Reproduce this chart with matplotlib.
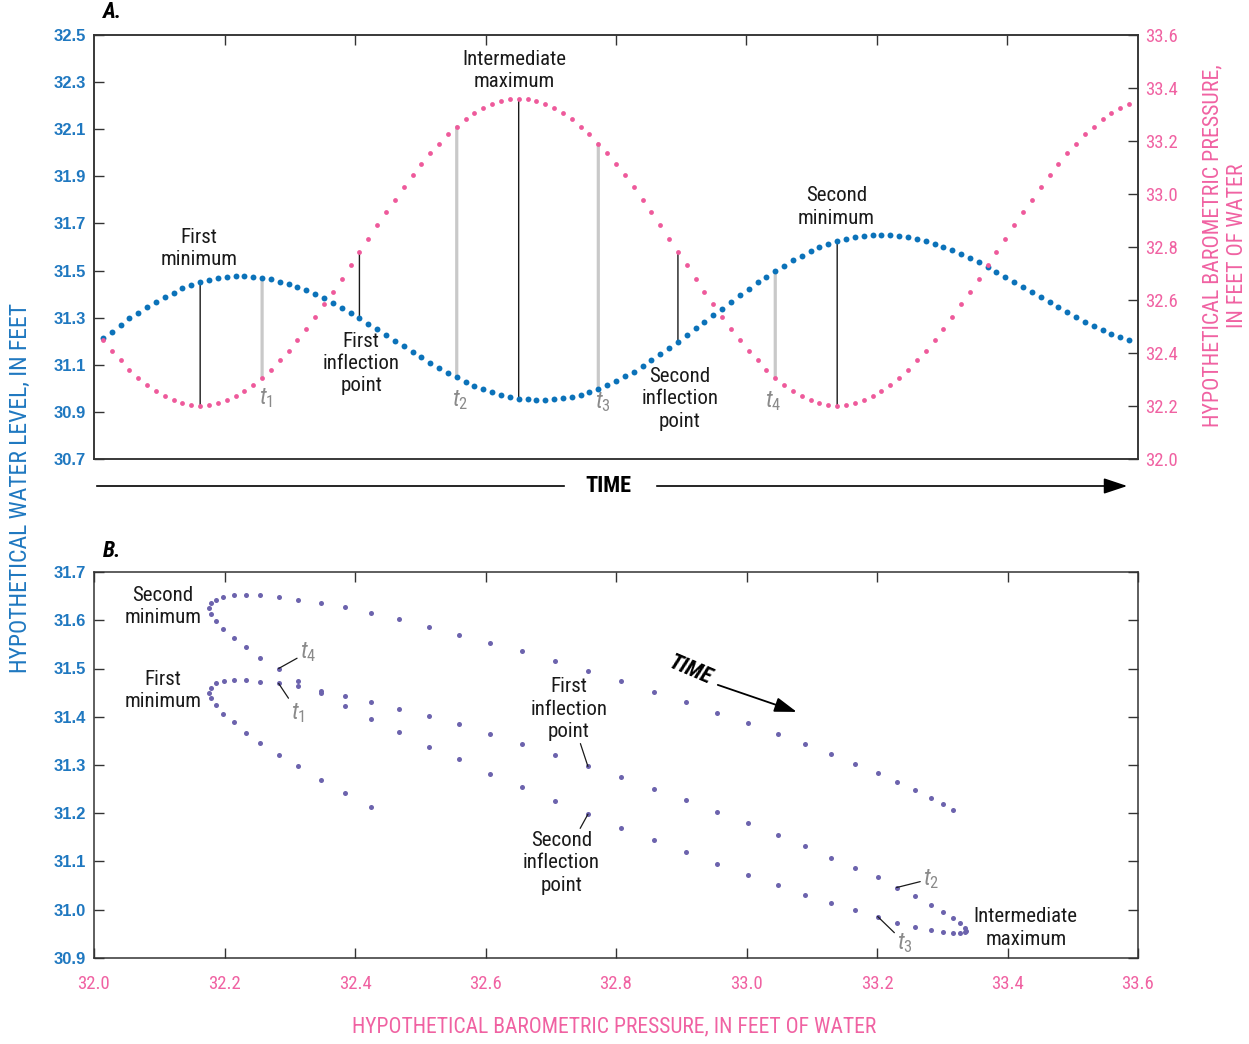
import matplotlib
matplotlib.use("Agg")
import matplotlib.pyplot as plt
from matplotlib import font_manager
from matplotlib.patches import ConnectionPatch, FancyArrowPatch
from matplotlib.lines import Line2D
import numpy as np

# values, one sample per time step (117 steps)
water_level = [
    31.212, 31.241, 31.269, 31.297, 31.321, 31.345, 31.367, 31.389, 31.406, 31.425,
    31.439, 31.450, 31.460, 31.469, 31.474, 31.476, 31.476, 31.473, 31.469, 31.463,
    31.453, 31.443, 31.430, 31.416, 31.401, 31.384, 31.364, 31.343, 31.320, 31.297,
    31.275, 31.251, 31.227, 31.203, 31.179, 31.155, 31.132, 31.108, 31.087, 31.067,
    31.046, 31.029, 31.010, 30.996, 30.983, 30.972, 30.963, 30.956, 30.954, 30.951,
    30.951, 30.954, 30.958, 30.965, 30.973, 30.986, 30.999, 31.014, 31.031, 31.051,
    31.071, 31.095, 31.119, 31.145, 31.170, 31.198, 31.225, 31.255, 31.282, 31.312,
    31.338, 31.368, 31.396, 31.423, 31.450, 31.474, 31.500, 31.521, 31.544, 31.563,
    31.582, 31.599, 31.613, 31.626, 31.636, 31.643, 31.648, 31.652, 31.652, 31.652,
    31.648, 31.643, 31.636, 31.627, 31.614, 31.602, 31.587, 31.570, 31.553, 31.536,
    31.515, 31.494, 31.474, 31.452, 31.430, 31.408, 31.387, 31.365, 31.344, 31.323,
    31.302, 31.283, 31.265, 31.248, 31.232, 31.220, 31.207]

# barometric pressure as drawn in panel A
baro_a = [
    32.449, 32.409, 32.372, 32.337, 32.307, 32.279, 32.257, 32.238, 32.221, 32.211,
    32.204, 32.201, 32.204, 32.211, 32.223, 32.238, 32.257, 32.279, 32.307, 32.337,
    32.372, 32.409, 32.449, 32.491, 32.537, 32.584, 32.631, 32.680, 32.731, 32.781,
    32.831, 32.883, 32.932, 32.979, 33.026, 33.072, 33.113, 33.154, 33.190, 33.225,
    33.254, 33.283, 33.306, 33.325, 33.341, 33.351, 33.359, 33.360, 33.359, 33.351,
    33.341, 33.325, 33.306, 33.283, 33.254, 33.225, 33.190, 33.154, 33.113, 33.072,
    33.026, 32.979, 32.932, 32.883, 32.831, 32.781, 32.731, 32.680, 32.631, 32.584,
    32.537, 32.491, 32.449, 32.409, 32.372, 32.337, 32.307, 32.279, 32.257, 32.238,
    32.221, 32.211, 32.204, 32.201, 32.204, 32.211, 32.221, 32.238, 32.257, 32.279,
    32.307, 32.337, 32.372, 32.409, 32.449, 32.491, 32.537, 32.584, 32.631, 32.680,
    32.731, 32.781, 32.831, 32.883, 32.932, 32.979, 33.026, 33.072, 33.113, 33.154,
    33.190, 33.225, 33.254, 33.283, 33.306, 33.325, 33.341]

# barometric pressure as drawn in panel B (sits a little left of panel A values)
baro_b = [
    32.425, 32.385, 32.348, 32.313, 32.283, 32.255, 32.233, 32.214, 32.197, 32.187,
    32.180, 32.177, 32.180, 32.187, 32.199, 32.214, 32.233, 32.255, 32.283, 32.313,
    32.348, 32.385, 32.425, 32.467, 32.513, 32.560, 32.607, 32.656, 32.707, 32.757,
    32.807, 32.859, 32.908, 32.955, 33.002, 33.048, 33.089, 33.130, 33.166, 33.201,
    33.230, 33.259, 33.282, 33.301, 33.317, 33.327, 33.335, 33.336, 33.335, 33.327,
    33.317, 33.301, 33.282, 33.259, 33.230, 33.201, 33.166, 33.130, 33.089, 33.048,
    33.002, 32.955, 32.908, 32.859, 32.807, 32.757, 32.707, 32.656, 32.607, 32.560,
    32.513, 32.467, 32.425, 32.385, 32.348, 32.313, 32.283, 32.255, 32.233, 32.214,
    32.197, 32.187, 32.180, 32.177, 32.180, 32.187, 32.197, 32.214, 32.233, 32.255,
    32.283, 32.313, 32.348, 32.385, 32.425, 32.467, 32.513, 32.560, 32.607, 32.656,
    32.707, 32.757, 32.807, 32.859, 32.908, 32.955, 33.002, 33.048, 33.089, 33.130,
    33.166, 33.201, 33.230, 33.259, 33.282, 33.301, 33.317]

# annotated time steps
feature_idx = [11, 29, 47, 65, 83]
feature_text = ['First\nminimum', 'First\ninflection\npoint', 'Intermediate\nmaximum',
                'Second\ninflection\npoint', 'Second\nminimum']
t_idx_a = [18, 40, 56, 76]
t_idx_b = [18, 40, 55, 76]
t_text = ['$t_1$', '$t_2$', '$t_3$', '$t_4$']

left_ticks_a = [30.7, 30.9, 31.1, 31.3, 31.5, 31.7, 31.9, 32.1, 32.3, 32.5]
right_ticks_a = [32.0, 32.2, 32.4, 32.6, 32.8, 33.0, 33.2, 33.4, 33.6]
x_ticks_b = [32.0, 32.2, 32.4, 32.6, 32.8, 33.0, 33.2, 33.4, 33.6]
y_ticks_b = [30.9, 31.0, 31.1, 31.2, 31.3, 31.4, 31.5, 31.6, 31.7]

# fonts: pick a narrow family if one is around
names = {f.name for f in font_manager.fontManager.ttflist}
narrow = next((n for n in ['Liberation Sans Narrow', 'Roboto Condensed', 'Open Sans Condensed']
               if n in names), 'DejaVu Sans')
bold_num = 'Liberation Sans' if 'Liberation Sans' in names else 'DejaVu Sans'
plt.rcParams['font.family'] = narrow
plt.rcParams['mathtext.fontset'] = 'custom'
plt.rcParams['mathtext.it'] = narrow + ':italic'
plt.rcParams['mathtext.rm'] = narrow

BLUE = '#0b72b9'
PINK = '#ee5a9b'
PURPLE = '#6c63ad'
GREY = '#c9c9c9'
TGREY = '#8a8a8a'
LBLUE = '#1f78c0'
LPINK = '#f062a2'
INK = '#1a1a1a'
SPINE = '#333333'

W, H = 1249, 1044
fig = plt.figure(figsize=(W / 100, H / 100), dpi=100)


def px(x0, y0, x1, y1):
    return [x0 / W, 1 - y1 / H, (x1 - x0) / W, (y1 - y0) / H]


# ---------------- panel A : time series ----------------
axA = fig.add_axes(px(94, 35, 1138, 459))
axR = axA.twinx()
t = np.arange(len(water_level))

axA.scatter(t, water_level, s=18, color=BLUE, lw=0, zorder=3)
axR.scatter(t, baro_a, s=12, color=PINK, lw=0, zorder=3)

axA.set_xlim(-1, len(t))
axA.set_ylim(30.7, 32.5)
axR.set_ylim(32.0, 33.6)

axA.set_xticks(np.linspace(-1, len(t), 9)[1:-1])
axA.tick_params(axis='x', top=True, bottom=False, labeltop=False, labelbottom=False,
                direction='in', length=7, width=1, color=SPINE)
axA.set_yticks(left_ticks_a)
axA.set_yticklabels(['%.1f' % v for v in left_ticks_a])
axA.tick_params(axis='y', direction='in', length=7, width=1, color=SPINE,
                labelcolor=LBLUE, labelsize=12, pad=6)
for lab in axA.get_yticklabels():
    lab.set_fontweight('bold')
    lab.set_family(bold_num)
axR.set_yticks(right_ticks_a)
axR.set_yticklabels(['%.1f' % v for v in right_ticks_a])
axR.tick_params(axis='y', direction='in', length=7, width=1, color=SPINE,
                labelcolor=LPINK, labelsize=13.5, pad=5)
for a in (axA, axR):
    for sp in a.spines.values():
        sp.set_linewidth(1.1)
        sp.set_color(SPINE)

# connecting lines between the two curves
for i in feature_idx:
    con = ConnectionPatch(xyA=(t[i], baro_a[i]), coordsA=axR.transData,
                          xyB=(t[i], water_level[i]), coordsB=axA.transData,
                          color=INK, lw=1.0, zorder=1)
    axA.add_artist(con)
for i in t_idx_a:
    con = ConnectionPatch(xyA=(t[i], baro_a[i]), coordsA=axR.transData,
                          xyB=(t[i], water_level[i]), coordsB=axA.transData,
                          color=GREY, lw=2.3, zorder=1)
    axA.add_artist(con)

feature_pos_a = [(10.9, 31.595), (29.2, 31.105), (46.5, 32.350), (65.2, 30.955), (82.9, 31.770)]
for s, (x, y) in zip(feature_text, feature_pos_a):
    axA.text(x, y, s, ha='center', va='center', fontsize=15, color=INK,
             linespacing=1.22, zorder=5)

t_pos_a = [(18.4, 30.960), (40.4, 30.950), (56.5, 30.940), (75.8, 30.945)]
for s, (x, y) in zip(t_text, t_pos_a):
    axA.text(x, y, s, ha='center', va='center', fontsize=17, color=TGREY, zorder=5)

# time arrow under panel A
ya = 1 - 486 / H
fig.add_artist(Line2D([97 / W, 564 / W], [ya, ya], color='black', lw=1.2))
fig.text(608 / W, ya, 'TIME', ha='center', va='center', fontsize=16, fontweight='bold')
fig.add_artist(FancyArrowPatch((654 / W, ya), (1130 / W, ya), transform=fig.transFigure,
                               arrowstyle='-|>,head_length=0.9,head_width=0.3',
                               mutation_scale=16, lw=1.2, color='black'))

# ---------------- panel B : water level vs pressure ----------------
axB = fig.add_axes(px(94, 572, 1138, 958))
axB.scatter(baro_b, water_level, s=13, color=PURPLE, lw=0, zorder=3)
axB.set_xlim(32.0, 33.6)
axB.set_ylim(30.9, 31.7)
axB.set_xticks(x_ticks_b)
axB.set_xticklabels(['%.1f' % v for v in x_ticks_b])
axB.set_yticks(y_ticks_b)
axB.set_yticklabels(['%.1f' % v for v in y_ticks_b])
axB.tick_params(direction='in', top=True, right=True, length=7, width=1, color=SPINE)
axB.tick_params(axis='x', labelcolor=LPINK, labelsize=13.5, pad=12)
axB.tick_params(axis='y', labelcolor=LBLUE, labelsize=12, pad=6)
for lab in axB.get_yticklabels():
    lab.set_fontweight('bold')
    lab.set_family(bold_num)
for sp in axB.spines.values():
    sp.set_linewidth(1.1)
    sp.set_color(SPINE)

axB.text(32.106, 31.628, 'Second\nminimum', ha='center', va='center', fontsize=15,
         color=INK, linespacing=1.22)
axB.text(32.106, 31.455, 'First\nminimum', ha='center', va='center', fontsize=15,
         color=INK, linespacing=1.22)
axB.text(33.428, 30.962, 'Intermediate\nmaximum', ha='center', va='center', fontsize=15,
         color=INK, linespacing=1.22)

lead = dict(arrowstyle='-', color=INK, lw=0.9, shrinkA=0, shrinkB=0)
for i, s, pos in [(29, 'First\ninflection\npoint', (32.728, 31.416)),
                  (65, 'Second\ninflection\npoint', (32.716, 31.097))]:
    axB.annotate(s, xy=(baro_b[i], water_level[i]), xytext=pos, ha='center', va='center',
                 fontsize=15, color=INK, linespacing=1.22, arrowprops=lead)

t_pos_b = [(32.313, 31.408), (33.283, 31.064), (33.243, 30.931), (32.328, 31.534)]
for i, s, pos in zip(t_idx_b, t_text, t_pos_b):
    axB.annotate(s, xy=(baro_b[i], water_level[i]), xytext=pos, ha='center', va='center',
                 fontsize=17, color=TGREY, arrowprops=lead)

axB.text(32.913, 31.497, 'TIME', rotation=-23, ha='center', va='center', fontsize=16,
         fontweight='bold', fontstyle='italic', rotation_mode='anchor')
axB.annotate('', xy=(33.077, 31.410), xytext=(32.956, 31.466),
             arrowprops=dict(arrowstyle='-|>,head_length=0.9,head_width=0.3',
                             mutation_scale=15, lw=1.3, color='black', shrinkA=0, shrinkB=0))

# panel letters and axis titles
fig.text(103 / W, 1 - 12 / H, 'A.', fontsize=16, fontweight='bold', fontstyle='italic',
         ha='left', va='center')
fig.text(103 / W, 1 - 551 / H, 'B.', fontsize=16, fontweight='bold', fontstyle='italic',
         ha='left', va='center')
fig.text(20 / W, 1 - 488 / H, 'HYPOTHETICAL WATER LEVEL, IN FEET', rotation=90,
         ha='center', va='center', fontsize=17, color=LBLUE)
fig.text(1225 / W, 1 - 246 / H, 'HYPOTHETICAL BAROMETRIC PRESSURE,\nIN FEET OF WATER',
         rotation=90, ha='center', va='center', fontsize=15.8, color=LPINK, linespacing=1.25)
fig.text(614 / W, 1 - 1027 / H, 'HYPOTHETICAL BAROMETRIC PRESSURE, IN FEET OF WATER',
         ha='center', va='center', fontsize=15.6, color=LPINK)

fig.savefig('out.png', dpi=100)
